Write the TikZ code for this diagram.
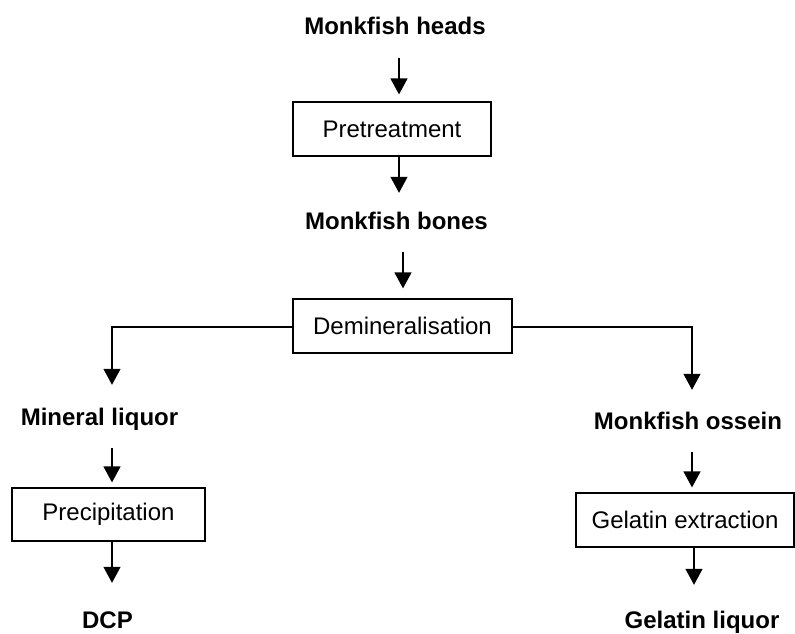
\documentclass[tikz,border=0pt]{standalone}
\usepackage{fontspec}
\setmainfont{Liberation Sans}
\usetikzlibrary{arrows.meta}
\begin{document}
\begin{tikzpicture}[x=1pt,y=-1pt,
  lbl/.style={font=\fontsize{24}{28}\selectfont\bfseries, inner sep=0pt, anchor=base, text height=17pt, text depth=5pt},
  stepbox/.style={draw, line width=1.2pt, font=\fontsize{24}{28}\selectfont, inner sep=0pt, minimum height=54pt},
  arr/.style={line width=1.3pt, -{Triangle[length=16pt,width=17pt]}, shorten <=18pt}
]
\useasboundingbox (0,0) rectangle (795,634);
% text labels (positioned at baseline)
\node[lbl] (heads) at (395,35) {Monkfish heads};
\node[lbl] (bones) at (396.5,229) {Monkfish bones};
\node[lbl] (mineral) at (99.5,425) {Mineral liquor};
\node[lbl] (ossein) at (688,429) {Monkfish ossein};
\node[lbl, text depth=0pt] (dcp) at (107.5,628) {DCP};
\node[lbl, text depth=5pt] (gliquor) at (702,628) {Gelatin liquor};
% boxes
\node[stepbox, minimum width=198pt] (pre) at (392,129) {Pretreatment};
\node[stepbox, minimum width=219pt] (demin) at (402.5,326) {Demineralisation};
\node[stepbox, minimum width=193pt, minimum height=53pt] (precip) at (108.5,514.5) {Precipitation};
\node[stepbox, minimum width=218pt] (gelext) at (685,520) {Gelatin extraction};
% arrows
\draw[arr, shorten >=7pt] ([xshift=4pt]heads.south) -- ([xshift=4pt]heads.south |- pre.north);
\draw[arr, shorten <=0pt, shorten >=19pt] ([xshift=7pt]pre.south) -- ([xshift=7pt]pre.south |- bones.north);
\draw[arr, shorten >=10pt] ([xshift=6.5pt]bones.south) -- ([xshift=6.5pt]bones.south |- demin.north);
\draw[arr, shorten <=0pt, shorten >=23pt] ([yshift=-1pt]demin.west) -| ([xshift=12.5pt]mineral.north);
\draw[arr, shorten <=0pt, shorten >=22pt] ([yshift=-1pt]demin.east) -| ([xshift=4pt]ossein.north);
\draw[arr, shorten >=5pt] ([xshift=12.5pt]mineral.south) -- ([xshift=12.5pt]mineral.south |- precip.north);
\draw[arr, shorten <=0pt, shorten >=28pt] ([xshift=3.5pt]precip.south) -- ([xshift=3.5pt]precip.south |- dcp.north);
\draw[arr, shorten >=5pt] ([xshift=4pt]ossein.south) -- ([xshift=4pt]ossein.south |- gelext.north);
\draw[arr, shorten <=0pt, shorten >=26pt] ([xshift=9pt]gelext.south) -- ([xshift=9pt]gelext.south |- gliquor.north);
\end{tikzpicture}
\end{document}
